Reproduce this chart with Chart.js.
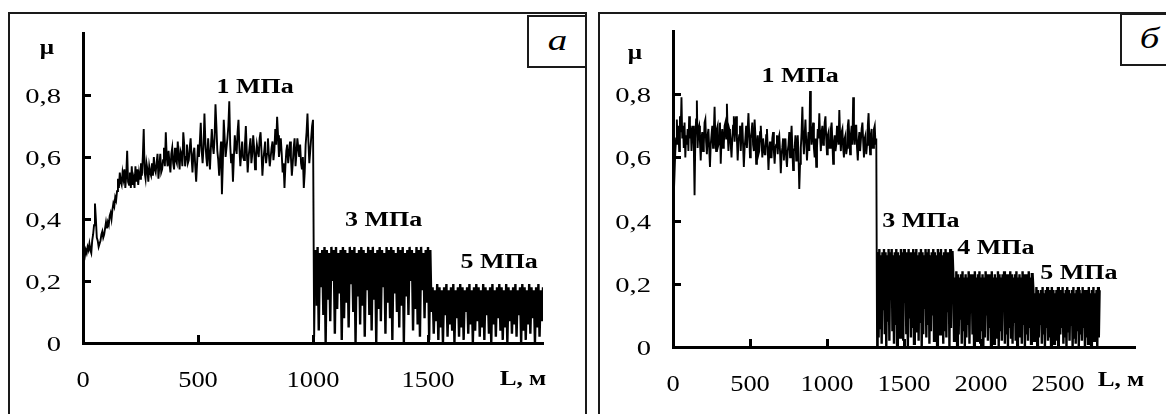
<!DOCTYPE html>
<html>
<head>
<meta charset="utf-8">
<script src="https://cdn.jsdelivr.net/npm/chart.js@4.4.1/dist/chart.umd.min.js"></script>
<style>
    body { margin: 0; background: #fff; }
    #page { position: relative; width: 1166px; height: 414px; overflow: hidden; background: #fff; }
    .panel { position: absolute; border: 2px solid #1a1a1a; box-sizing: border-box; }
    .tag { position: absolute; border: 2px solid #1a1a1a; box-sizing: border-box; background: #fff;
           font-family: "Liberation Serif", serif; font-style: italic; font-size: 30px; line-height: 46px; text-align: center; }
    .tag span { display: inline-block; transform: scaleX(1.3); }
    canvas { position: absolute; }
</style>
</head>
<body>
<div id="page">
    <div class="panel" style="left:8px; top:12px; width:579px; height:420px;"></div>
    <div class="panel" style="left:598px; top:12px; width:580px; height:420px;"></div>
    <canvas id="chart-a" width="575" height="400" style="left:10px; top:14px;"></canvas>
    <canvas id="chart-b" width="566" height="400" style="left:600px; top:14px;"></canvas>
    <div class="tag" style="left:527px; top:15px; width:60px; height:53px;"><span>а</span></div>
    <div class="tag" style="left:1120px; top:13px; width:60px; height:53px;"><span>б</span></div>
</div>
<script>
// Значения μ записаны в сотых долях, шаг по пути L — в метрах.

// Панель (а): 1, 3 и 5 МПа
const startA1 = 0, stepA1 = 4;
const muA1 = [
    28, 29, 28, 30, 29, 31, 30, 32, 30, 29, 33, 35, 38,
    45, 40, 34, 33, 31, 32, 33, 35, 36, 34, 35, 37, 39,
    37, 39, 38, 41, 42, 40, 43, 45, 44, 47, 46, 49,
    53, 50, 55, 52, 51, 55, 53, 56, 50, 54, 62, 52, 51,
    55, 50, 57, 51, 53, 50, 57, 52, 56, 51, 55, 53,
    58, 54, 60, 69, 55, 53, 58, 56, 52, 57, 55, 54, 58,
    54, 60, 56, 55, 58, 61, 53, 57, 61, 55, 56, 59,
    63, 57, 68, 60, 57, 62, 58, 55, 61, 63, 58, 56, 63,
    59, 58, 65, 60, 56, 62, 61, 57, 68, 64, 57, 60,
    64, 58, 59, 63, 66, 60, 55, 61, 63, 57, 52, 58, 64,
    60, 65, 71, 62, 58, 63, 74, 65, 60, 57, 66, 61,
    56, 63, 69, 64, 61, 66, 77, 70, 62, 59, 54, 60, 65,
    48, 58, 72, 66, 60, 63, 66, 70, 78, 64, 58, 61,
    52, 60, 67, 63, 61, 68, 72, 63, 57, 61, 65, 60, 59,
    64, 70, 62, 55, 60, 63, 66, 58, 61, 67, 63, 56,
    60, 64, 62, 60, 66, 68, 62, 54, 59, 62, 65, 58, 61,
    66, 61, 57, 60, 63, 65, 59, 62, 69, 64, 73, 67,
    60, 63, 66, 61, 55, 58, 50, 57, 62, 64, 58, 61, 65,
    60, 54, 58, 63, 66, 57, 61, 66, 63, 60, 64, 58,
    56, 60, 50, 55, 64, 68, 74, 65, 58, 62, 66, 70, 72];
const startA3 = 1005, stepA3 = 5;
const muA3 = [2, 30, 12, 31, 4, 29, 18, 30, 9, 31, 0, 30, 14, 29, 7, 31, 20, 30, 3, 31, 11,
    29, 16, 30, 1, 31, 8, 30, 13, 29, 5, 31, 19, 30, 10, 31, 0, 29, 15, 30, 6,
    31, 12, 30, 2, 29, 17, 31, 9, 30, 4, 31, 14, 29, 0, 30, 11, 31, 7, 30, 18,
    29, 3, 31, 13, 30, 8, 31, 1, 30, 16, 29, 10, 31, 5, 30, 12, 31, 0, 29, 15,
    30, 9, 31, 20, 30, 4, 29, 11, 31, 6, 30, 2, 31, 17, 29, 8, 30, 13, 31, 1, 30, 10];
const startA5 = 1520, stepA5 = 5;
const muA5 = [18, 3, 17, 7, 19, 1, 18, 5, 17, 0, 18, 9, 19, 2, 17, 6, 18, 4, 19, 0,
    17, 8, 18, 2, 19, 5, 18, 1, 17, 10, 18, 3, 19, 6, 17, 0, 18, 4, 19, 7,
    18, 2, 17, 5, 19, 1, 18, 9, 17, 3, 18, 0, 19, 6, 17, 2, 18, 8, 19, 4,
    18, 1, 17, 5, 19, 0, 18, 7, 17, 3, 18, 6, 19, 2, 17, 9, 18, 0, 19, 4,
    18, 1, 17, 6, 19, 3, 18, 8, 17, 0, 18, 5, 19, 2, 17, 7, 18, 17];

// Панель (б): 1, 3, 4 и 5 МПа
const startB1 = 0, stepB1 = 5;
const muB1 = [
    38, 48, 55, 62, 66, 72, 64, 70, 62, 73, 68, 79,
    66, 70, 63, 71, 60, 67, 64, 69, 62, 73, 66, 70,
    62, 68, 70, 64, 48, 66, 72, 78, 63, 69, 70, 65,
    59, 66, 68, 62, 64, 71, 72, 65, 61, 67, 69, 63,
    57, 64, 67, 70, 63, 68, 76, 66, 62, 69, 70, 64,
    65, 71, 58, 66, 69, 63, 64, 70, 71, 66, 77, 68,
    62, 69, 68, 64, 60, 66, 70, 73, 65, 71, 73, 66,
    59, 65, 67, 70, 62, 68, 71, 64, 57, 63, 66, 70,
    63, 69, 74, 67, 60, 66, 68, 71, 64, 62, 72, 67,
    58, 64, 67, 61, 62, 68, 70, 65, 60, 66, 66, 61,
    61, 67, 69, 63, 56, 62, 65, 60, 60, 66, 68, 62,
    58, 63, 64, 67, 61, 66, 67, 62, 55, 61, 63, 66,
    59, 64, 66, 60, 57, 62, 64, 68, 60, 65, 70, 63,
    56, 62, 63, 67, 59, 64, 67, 61, 50, 58, 63, 68,
    76, 66, 61, 67, 72, 65, 59, 64, 68, 62, 81, 70,
    64, 68, 71, 63, 60, 66, 57, 63, 69, 66, 74, 67,
    62, 68, 70, 64, 65, 71, 73, 66, 61, 67, 68, 63,
    63, 69, 71, 65, 58, 64, 67, 62, 64, 70, 70, 64,
    75, 67, 62, 68, 69, 63, 60, 66, 67, 61, 63, 70,
    72, 66, 61, 67, 70, 64, 79, 68, 64, 70, 70, 63,
    59, 65, 68, 62, 62, 69, 71, 65, 60, 66, 67, 61,
    64, 70, 74, 66, 61, 67, 69, 63, 63, 69, 70, 64,
    66];
const startB3 = 1325, stepB3 = 5;
const muB3 = [0, 30, 3, 31, 6, 29, 1, 30, 12, 31, 4, 30, 0, 29, 8, 31, 2, 30, 15, 31, 5,
    29, 1, 30, 7, 31, 0, 30, 11, 29, 3, 31, 6, 30, 2, 31, 14, 29, 4, 30, 0,
    31, 9, 30, 3, 29, 6, 31, 1, 30, 16, 31, 5, 29, 2, 30, 8, 31, 0, 30, 4,
    29, 12, 31, 3, 30, 7, 31, 1, 29, 5, 30, 10, 31, 2, 30, 6, 29, 0, 31, 13,
    30, 4, 31, 8, 29, 1, 30, 5, 31, 3, 30, 11, 29, 0, 31, 6, 30, 30];
const startB4 = 1820, stepB4 = 5;
const muB4 = [23, 2, 22, 6, 24, 0, 23, 4, 22, 9, 23, 1, 24, 5, 22, 0, 23, 3, 22, 7,
    24, 1, 23, 11, 22, 4, 23, 0, 24, 6, 22, 2, 23, 8, 24, 1, 22, 5, 23, 0,
    22, 3, 24, 10, 23, 2, 22, 6, 23, 0, 24, 4, 22, 1, 23, 7, 22, 3, 24, 0,
    23, 5, 22, 2, 23, 12, 24, 1, 22, 4, 23, 0, 22, 6, 24, 3, 23, 1, 22, 8,
    23, 2, 24, 0, 22, 5, 23, 3, 22, 1, 24, 7, 23, 0, 22, 4, 23, 2, 24, 6,
    22, 1, 23, 23];
const startB5 = 2340, stepB5 = 5;
const muB5 = [18, 2, 17, 5, 19, 0, 18, 3, 17, 7, 18, 1, 19, 4, 17, 0, 18, 6, 19, 2,
    17, 3, 18, 0, 19, 5, 18, 1, 17, 8, 18, 2, 19, 0, 17, 4, 18, 6, 19, 1,
    17, 3, 18, 0, 19, 5, 18, 2, 17, 7, 18, 0, 19, 3, 17, 1, 18, 5, 19, 0,
    18, 4, 17, 2, 19, 6, 18, 0, 17, 3, 18, 1, 19, 5, 17, 0, 18, 4, 19, 2,
    17, 6, 18, 0, 19, 3, 18];

// Деления и подписи осей
const xTicksA = [0, 500, 1000, 1500];
const xTicksB = [0, 500, 1000, 1500, 2000, 2500];
const yTicks = [0, 0.2, 0.4, 0.6, 0.8];

// Надписи: текст и точка привязки в координатах графика (L, μ)
const notesA = [
    { text: '1 МПа', x: 748, y: 0.806 },
    { text: '3 МПа', x: 1307, y: 0.377 },
    { text: '5 МПа', x: 1809, y: 0.242 }
];
const notesB = [
    { text: '1 МПа', x: 825, y: 0.84 },
    { text: '3 МПа', x: 1610, y: 0.381 },
    { text: '4 МПа', x: 2097, y: 0.294 },
    { text: '5 МПа', x: 2636, y: 0.216 }
];

const SERIF = '"Liberation Serif", "Times New Roman", serif';

function toPoints(segments) {
    const pts = [];
    segments.forEach(([start, step, values]) => {
        values.forEach((v, i) => pts.push({ x: start + i * step, y: v / 100 }));
    });
    return pts;
}

function fmt(v) {
    return v === 0 ? '0' : v.toFixed(1).replace('.', ',');
}

function drawText(ctx, text, x, y, font, align, sx) {
    ctx.save();
    ctx.font = font;
    ctx.textAlign = align;
    ctx.textBaseline = 'alphabetic';
    ctx.fillStyle = '#000';
    ctx.translate(x, y);
    ctx.scale(sx, 1);
    ctx.fillText(text, 0, 0);
    ctx.restore();
}

// оси с внутренними делениями и все подписи
const framePlugin = {
    id: 'frame',
    afterDraw(chart, args, o) {
        const { ctx, chartArea: a, scales: { x, y } } = chart;
        ctx.save();
        ctx.strokeStyle = '#000';
        ctx.lineWidth = 3;
        o.yTicks.filter(v => v > 0).forEach(v => {
            const py = Math.round(y.getPixelForValue(v)) + 0.5;
            ctx.beginPath();
            ctx.moveTo(a.left, py);
            ctx.lineTo(a.left + 8, py);
            ctx.stroke();
        });
        o.xTicks.filter(v => v > 0).forEach(v => {
            const px = Math.round(x.getPixelForValue(v)) + 0.5;
            ctx.beginPath();
            ctx.moveTo(px, a.bottom);
            ctx.lineTo(px, a.bottom - 8);
            ctx.stroke();
        });
        ctx.restore();

        o.yTicks.forEach(v => {
            drawText(ctx, fmt(v), a.left - 22, y.getPixelForValue(v) + 8, '22px ' + SERIF, 'right', 1.3);
        });
        o.xTicks.forEach(v => {
            drawText(ctx, String(v), x.getPixelForValue(v), a.bottom + 44, '23px ' + SERIF, 'center', 1.15);
        });
        o.notes.forEach(n => {
            drawText(ctx, n.text, x.getPixelForValue(n.x), y.getPixelForValue(n.y), 'bold 20px ' + SERIF, 'center', 1.3);
        });
        drawText(ctx, 'μ', x.getPixelForValue(o.muLabel.x), y.getPixelForValue(o.muLabel.y), 'bold 21px ' + SERIF, 'center', 1.2);
        drawText(ctx, 'L, м', x.getPixelForValue(o.lLabel.x), y.getPixelForValue(o.lLabel.y), 'bold 21px ' + SERIF, 'center', 1.2);
    }
};

function axisOpts(max) {
    return {
        type: 'linear', min: 0, max,
        ticks: { display: false },
        grid: { display: false, drawTicks: false, tickLength: 0 },
        border: { display: true, color: '#000', width: 3 }
    };
}

function makeChart(canvasId, points, xMax, bandFrom, padding, frameOpts) {
    const el = document.getElementById(canvasId);
    return new Chart(el, {
        type: 'line',
        data: {
            datasets: [{
                data: points,
                borderColor: '#000',
                borderWidth: 1.9,
                pointRadius: 0,
                tension: 0,
                fill: false,
                // частые колебания при 3–5 МПа сливаются в сплошную полосу
                segment: { borderWidth: c => (c.p0.parsed.x >= bandFrom ? 2.4 : 1.9) }
            }]
        },
        options: {
            responsive: false,
            animation: false,
            events: [],
            layout: { padding },
            plugins: { legend: { display: false }, tooltip: { enabled: false }, frame: frameOpts },
            scales: { x: axisOpts(xMax), y: axisOpts(1) }
        },
        plugins: [framePlugin]
    });
}

makeChart('chart-a',
    toPoints([[startA1, stepA1, muA1], [startA3, stepA3, muA3], [startA5, stepA5, muA5]]),
    2000, startA3 + stepA3,
    { left: 73, top: 19, right: 42, bottom: 71 },
    { xTicks: xTicksA, yTicks, notes: notesA, muLabel: { x: -157, y: 0.932 }, lLabel: { x: 1913, y: -0.135 } });

makeChart('chart-b',
    toPoints([[startB1, stepB1, muB1], [startB3, stepB3, muB3], [startB4, stepB4, muB4], [startB5, stepB5, muB5]]),
    3000, startB3 + stepB3,
    { left: 73, top: 17, right: 31, bottom: 67 },
    { xTicks: xTicksB, yTicks, notes: notesB, muLabel: { x: -247, y: 0.91 }, lLabel: { x: 2909, y: -0.122 } });
</script>
</body>
</html>
